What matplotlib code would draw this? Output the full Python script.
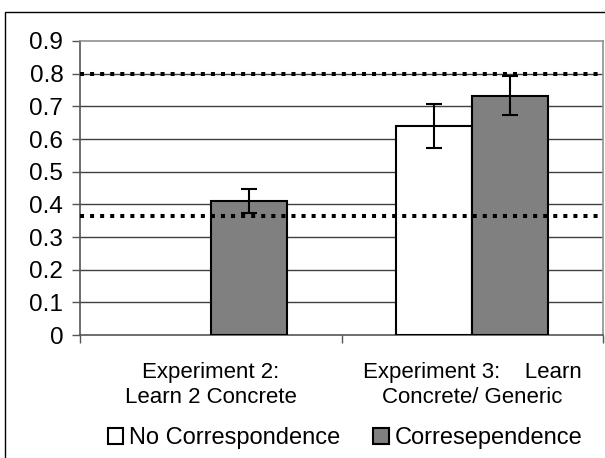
import matplotlib
matplotlib.use("Agg")
import matplotlib.pyplot as plt
import numpy as np
from matplotlib.patches import Rectangle

plt.rcParams['font.family'] = ['Liberation Sans', 'DejaVu Sans']

categories = ["Experiment 2:\nLearn 2 Concrete", "Experiment 3:    Learn\nConcrete/ Generic"]
series_names = ["No Correspondence", "Corresependence"]
no_corr = [np.nan, 0.64]
no_corr_err = [np.nan, 0.067]
corr = [0.41, 0.733]
corr_err = [0.038, 0.06]
ref_lines = [0.80, 0.365]
yticks = [0, 0.1, 0.2, 0.3, 0.4, 0.5, 0.6, 0.7, 0.8, 0.9]
ytick_labels = ["0", "0.1", "0.2", "0.3", "0.4", "0.5", "0.6", "0.7", "0.8", "0.9"]

W, H = 605, 458
fig = plt.figure(figsize=(W / 100, H / 100), dpi=100)

# outer border
fig.patches.append(Rectangle((5 / W, -0.1), 2, (H - 12) / H + 0.1, transform=fig.transFigure,
                             fill=False, edgecolor='black', linewidth=1.0))

ax = fig.add_axes([80 / W, (H - 335) / H, (603 - 80) / W, (335 - 41) / H])
x = np.arange(len(categories))
bw = 0.29

ax.set_ylim(0, 0.9)
ax.set_xlim(-0.5, 1.5)
for t in yticks[1:-1]:
    ax.axhline(t, color='#404040', linewidth=1.0, zorder=1)

ax.bar(x - bw, no_corr, width=bw, align='edge', color='white', edgecolor='black', linewidth=1.5, zorder=3,
       label=series_names[0])
ax.bar(x, corr, width=bw, align='edge', color='#808080', edgecolor='black', linewidth=1.5, zorder=3,
       label=series_names[1])
ax.errorbar(x - bw / 2, no_corr, yerr=no_corr_err, fmt='none', ecolor='black', elinewidth=1.5,
            capsize=5.5, capthick=1.5, zorder=5)
ax.errorbar(x + bw / 2, corr, yerr=corr_err, fmt='none', ecolor='black', elinewidth=1.5,
            capsize=5.5, capthick=1.5, zorder=5)

for r in ref_lines:
    ax.axhline(r, color='black', linewidth=2.9, linestyle=(0, (1, 1.5)), dash_capstyle='butt', zorder=6)

ax.set_yticks(yticks)
ax.set_yticklabels(ytick_labels, fontsize=17.5)
ax.tick_params(axis='y', length=6, width=1, color='#555555', pad=6)
ax.set_xticks([-0.5, 0.5, 1.5])
ax.set_xticklabels([])
ax.tick_params(axis='x', length=6, width=1, color='#555555')
for i, c in enumerate(categories):
    xd = ax.transData.transform((x[i], 0))[0]
    fig.text(xd / W, (H - 385) / H, c, ha='center', va='center', fontsize=16, linespacing=1.2)

for s in ['top', 'right']:
    ax.spines[s].set_color('#909090')
    ax.spines[s].set_linewidth(1.2)
ax.spines['left'].set_color('#555555')
ax.spines['bottom'].set_color('#555555')
ax.spines['left'].set_linewidth(1.2)
ax.spines['bottom'].set_linewidth(1.2)

leg = fig.legend(loc='center', bbox_to_anchor=(345 / W, (H - 438) / H), ncol=2, frameon=False,
                 fontsize=17, handlelength=0.65, handleheight=0.65, handletextpad=0.25,
                 columnspacing=1.4)

fig.savefig("out.png", dpi=100)
